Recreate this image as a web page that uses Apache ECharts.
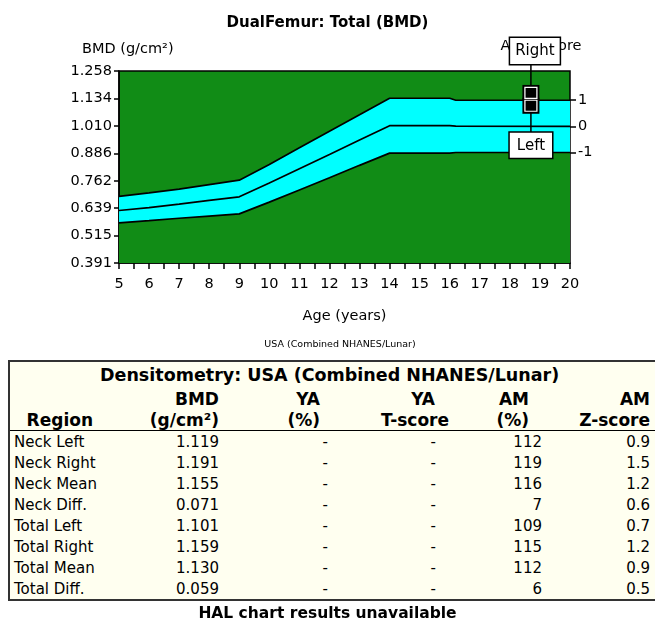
<!DOCTYPE html>
<html>
<head>
<meta charset="utf-8">
<script src="https://cdn.jsdelivr.net/npm/echarts@6/dist/echarts.min.js"></script>
<style>
  html, body { margin: 0; padding: 0; background: #fff; }
  #wrap { position: relative; width: 655px; height: 624px; overflow: hidden; }
  #chart { position: absolute; left: 0; top: 0; width: 655px; height: 624px; }
  #tbl {
    position: absolute; left: 8px; top: 360px; width: 670px;
    border-collapse: collapse; table-layout: fixed;
    border: 2px solid #333; background: #fffff0;
    font-family: "DejaVu Sans", sans-serif;
    font-size: 15px; color: #000;
  }
  #tbl td { padding: 0; white-space: nowrap; overflow: visible; }
  #tbl .ttl td { height: 26px; font-weight: bold; font-size: 17.5px; text-align: left; padding-left: 90px; }
  #tbl .hd td { height: 21px; font-weight: bold; font-size: 17px; text-align: right; }
  #tbl .hd2 td { border-bottom: 1px solid #000; }
  #tbl .row td { height: 21px; text-align: right; }
  #hal {
    position: absolute; left: 0; width: 655px; top: 604px; text-align: center;
    font-family: "DejaVu Sans", sans-serif;
    font-weight: bold; font-size: 15.5px;
  }
</style>
</head>
<body>
<div id="wrap">
  <div id="chart"></div>
  <table id="tbl"></table>
  <div id="hal">HAL chart results unavailable</div>
</div>
<script>
// reference curve (age in years -> BMD g/cm2)
const ages = [5, 6, 7, 8, 9, 10, 11, 12, 13, 14, 16, 16.2, 20];
const upper = [0.692, 0.708, 0.725, 0.745, 0.765, 0.836, 0.911, 0.986, 1.060, 1.135, 1.135, 1.126, 1.126];
const mean = [0.628, 0.641, 0.657, 0.674, 0.690, 0.752, 0.817, 0.881, 0.946, 1.011, 1.011, 1.009, 1.008];
const lower = [0.572, 0.582, 0.593, 0.603, 0.613, 0.666, 0.721, 0.776, 0.832, 0.887, 0.887, 0.890, 0.890];

const bmdTicks = ["0.391", "0.515", "0.639", "0.762", "0.886", "1.010", "1.134", "1.258"];
const zLabels = ["1", "0", "-1"];
const zValues = [1.126, 1.008, 0.890];

// patient
const patientAge = 18.7;
const bmdRight = 1.159;
const bmdLeft = 1.101;

// table
const regions = ["Neck Left", "Neck Right", "Neck Mean", "Neck Diff.", "Total Left", "Total Right", "Total Mean", "Total Diff."];
const bmdVals = ["1.119", "1.191", "1.155", "0.071", "1.101", "1.159", "1.130", "0.059"];
const yaPct = ["-", "-", "-", "-", "-", "-", "-", "-"];
const yaT = ["-", "-", "-", "-", "-", "-", "-", "-"];
const amPct = ["112", "119", "116", "7", "109", "115", "112", "6"];
const amZ = ["0.9", "1.5", "1.2", "0.6", "0.7", "1.2", "0.9", "0.5"];

const FONT = "'DejaVu Sans', sans-serif";
const GREEN = "#118c16";

function pairs(xs, ys) {
  return xs.map((x, i) => [x, ys[i]]);
}

const chart = echarts.init(document.getElementById("chart"));

const option = {
  animation: false,
  textStyle: { fontFamily: FONT, color: "#000" },
  title: [
    {
      text: "DualFemur: Total (BMD)",
      left: "center", top: 11,
      textStyle: { fontFamily: FONT, fontSize: 15, fontWeight: "bold", color: "#000" }
    },
    {
      text: "BMD (g/cm²)",
      left: 77, top: 37,
      textStyle: { fontFamily: FONT, fontSize: 14.5, fontWeight: "normal", color: "#000" }
    },
    {
      text: "USA (Combined NHANES/Lunar)",
      left: 335, top: 335, textAlign: "center",
      textStyle: { fontFamily: FONT, fontSize: 9.5, fontWeight: "normal", color: "#000" }
    }
  ],
  grid: {
    left: 119, right: 85, top: 71, height: 192,
    show: true, backgroundColor: GREEN, borderColor: "#000", borderWidth: 1.5
  },
  xAxis: {
    type: "value", min: 5, max: 20, interval: 1,
    name: "Age (years)", nameLocation: "middle", nameGap: 46,
    nameTextStyle: { fontSize: 14.5, color: "#000" },
    axisLine: { show: true, lineStyle: { color: "#000", width: 1.5 } },
    axisTick: { show: true, length: 6, lineStyle: { color: "#000", width: 1.5 } },
    minorTick: { show: true, splitNumber: 2, length: 6, lineStyle: { color: "#000", width: 1.5 } },
    axisLabel: { fontSize: 14.5, color: "#000", margin: 14 },
    splitLine: { show: false },
    minorSplitLine: { show: false }
  },
  yAxis: [
    {
      type: "value", min: 0.391, max: 1.258,
      axisLine: { show: true, lineStyle: { color: "#000", width: 1.5 } },
      axisTick: { show: true, length: 5, customValues: bmdTicks.map(Number), lineStyle: { color: "#000", width: 1.5 } },
      axisLabel: {
        fontSize: 14.5, color: "#000", margin: 7,
        customValues: bmdTicks.map(Number),
        formatter: (v) => v.toFixed(3)
      },
      splitLine: { show: false }
    },
    {
      type: "value", min: 0.391, max: 1.258, position: "right",
      name: "AM Z-score", nameLocation: "end", nameGap: 17,
      nameTextStyle: { fontSize: 14.5, color: "#000", padding: [0, 58, 0, 0] },
      axisLine: { show: false },
      axisTick: { show: true, length: 6, customValues: zValues, lineStyle: { color: "#000", width: 1.5 } },
      axisLabel: {
        fontSize: 14.5, color: "#000", margin: 8,
        customValues: zValues,
        formatter: (v) => zLabels[zValues.indexOf(v)]
      },
      splitLine: { show: false }
    }
  ],
  series: [
    {
      name: "upper", type: "line", data: pairs(ages, upper),
      symbol: "none", lineStyle: { color: "#000", width: 1.7 },
      areaStyle: { color: "#00ffff", opacity: 1, origin: "start" }
    },
    {
      name: "lower", type: "line", data: pairs(ages, lower),
      symbol: "none", lineStyle: { color: "#000", width: 1.7 },
      areaStyle: { color: GREEN, opacity: 1, origin: "start" }
    },
    {
      name: "mean", type: "line", data: pairs(ages, mean),
      symbol: "none", lineStyle: { color: "#000", width: 1.7 }
    },
    {
      name: "connector", type: "line", clip: false, z: 5,
      data: [[patientAge, bmdRight + 0.14], [patientAge, bmdLeft - 0.14]],
      symbol: "none", lineStyle: { color: "#000", width: 1.5 }
    },
    {
      name: "markerOuter", type: "scatter", z: 6, clip: false,
      symbol: "rect", symbolSize: [17, 16],
      itemStyle: { color: "#000", opacity: 1 },
      data: [
        {
          value: [patientAge, bmdRight],
          label: {
            show: true, position: "top", distance: 21, offset: [4, 0], formatter: "Right",
            fontSize: 15, lineHeight: 18, color: "#000", backgroundColor: "#fff",
            borderColor: "#000", borderWidth: 1.5, padding: [4, 5, 4, 5]
          }
        },
        {
          value: [patientAge, bmdLeft],
          label: {
            show: true, position: "bottom", distance: 19, formatter: "Left",
            fontSize: 15, lineHeight: 18, color: "#000", backgroundColor: "#fff",
            borderColor: "#000", borderWidth: 1.5, padding: [4, 7, 3, 7]
          }
        }
      ]
    },
    {
      name: "markerInner", type: "scatter", z: 7, clip: false,
      symbol: "rect", symbolSize: [12, 11],
      itemStyle: { color: "#000", opacity: 1, borderColor: "#fff", borderWidth: 1.2 },
      data: [[patientAge, bmdRight], [patientAge, bmdLeft]]
    }
  ]
};

chart.setOption(option);

// results table
const colW = [100, 110, 109, 121, 93, 108, 29];
const tbl = document.getElementById("tbl");
let html = "<colgroup>" + colW.map(w => `<col style="width:${w}px">`).join("") + "</colgroup>";
html += `<tr class="ttl"><td colspan="7">Densitometry: USA (Combined NHANES/Lunar)</td></tr>`;
html += `<tr class="hd"><td></td><td>BMD</td><td style="padding-right:8px">YA</td><td style="padding-right:14px">YA</td><td style="padding-right:13px">AM</td><td>AM</td><td></td></tr>`;
html += `<tr class="hd hd2"><td style="padding-right:16px">Region</td><td>(g/cm²)</td><td style="padding-right:8px">(%)</td><td>T-score</td><td style="padding-right:13px">(%)</td><td>Z-score</td><td></td></tr>`;
regions.forEach((r, i) => {
  html += `<tr class="row"><td style="text-align:left;padding-left:4px">${r}</td>` +
    `<td>${bmdVals[i]}</td>` +
    `<td style="padding-right:0">${yaPct[i]}</td>` +
    `<td style="padding-right:13px">${yaT[i]}</td>` +
    `<td>${amPct[i]}</td>` +
    `<td>${amZ[i]}</td><td></td></tr>`;
});
tbl.innerHTML = html;
</script>
</body>
</html>
